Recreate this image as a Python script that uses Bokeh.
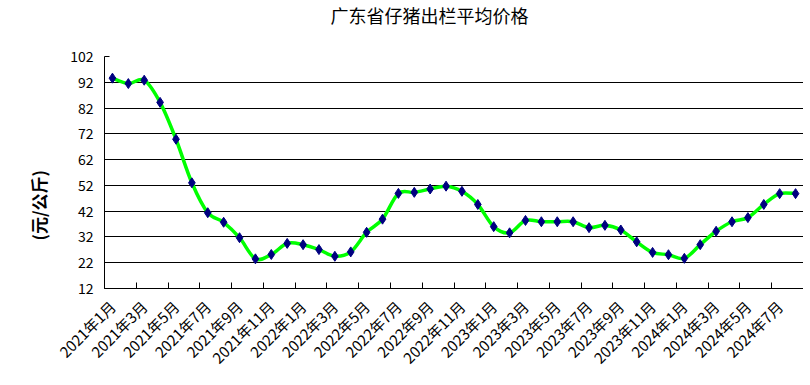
import math
from bokeh.plotting import figure
from bokeh.models import FixedTicker, Range1d, Title, ColumnDataSource
from bokeh.embed import file_html
from bokeh.resources import INLINE

title_text = "广东省仔猪出栏平均价格"
y_label = "(元/公斤)"

years = [2021, 2022, 2023, 2024]
months = []
for yr in years:
    for m in range(1, 13):
        months.append(f"{yr}年{m}月")
months = months[:44]

prices = [93.6, 91.5, 92.8, 84.2, 69.9, 53.0, 41.4, 37.7, 31.7, 23.5,
          25.2, 29.5, 29.0, 27.1, 24.5, 26.2, 33.8, 38.9, 48.9, 49.3,
          50.6, 51.7, 49.7, 44.6, 36.0, 33.6, 38.4, 37.9, 37.9, 37.9,
          35.6, 36.5, 34.7, 30.1, 26.0, 25.1, 23.7, 29.0, 34.2, 37.9,
          39.5, 44.6, 48.8, 48.8]

y_ticks = [12, 22, 32, 42, 52, 62, 72, 82, 92, 102]

FONT = "Noto Sans CJK SC"

n = len(prices)
xs = [i + 0.5 for i in range(n)]

p = figure(width=803, height=377, output_backend="svg", toolbar_location=None,
           x_range=Range1d(0, n), y_range=Range1d(12, 102),
           min_border_left=104, min_border_right=0, min_border_top=56, min_border_bottom=89)
p.outline_line_color = None
p.background_fill_color = "white"
p.border_fill_color = "white"

p.title.text = title_text + "\n"
p.title.align = "left"
p.title.offset = 226
p.title.vertical_align = "top"
p.title.standoff = 2
p.title.text_font = FONT
p.title.text_font_size = "18px"
p.title.text_font_style = "normal"
p.title.text_color = "black"

# grid
p.xgrid.visible = False
p.ygrid.ticker = FixedTicker(ticks=y_ticks[1:-1])
p.ygrid.grid_line_color = "black"
p.ygrid.grid_line_width = 1

# y axis
p.yaxis.ticker = FixedTicker(ticks=y_ticks)
p.yaxis.major_tick_in = 5
p.yaxis.major_tick_out = 0
p.yaxis.minor_tick_line_color = None
p.yaxis.axis_line_color = "black"
p.yaxis.major_label_text_font = FONT
p.yaxis.major_label_text_font_size = "14px"
p.yaxis.major_label_text_color = "black"
p.yaxis.major_label_standoff = 11

# x axis
label_pos = [i + 0.5 for i in range(0, n, 2)]
bounds = [float(i) for i in range(0, n + 1, 2)]
p.xaxis.ticker = FixedTicker(ticks=label_pos, minor_ticks=bounds)
p.xaxis.major_label_overrides = {x: months[int(x)] for x in label_pos}
p.xaxis.major_tick_in = 0
p.xaxis.major_tick_out = 0
p.xaxis.minor_tick_in = 6
p.xaxis.minor_tick_out = 0
p.xaxis.minor_tick_line_color = "black"
p.xaxis.axis_line_color = "black"
p.xaxis.major_label_orientation = math.pi / 4
p.xaxis.major_label_text_font = FONT
p.xaxis.major_label_text_font_size = "15px"
p.xaxis.major_label_text_color = "black"
p.xaxis.major_label_standoff = 15

# smooth line via bezier segments
x0, y0, x1, y1, cx0, cy0, cx1, cy1 = [], [], [], [], [], [], [], []
for i in range(n - 1):
    pm = (xs[max(i - 1, 0)], prices[max(i - 1, 0)])
    pa = (xs[i], prices[i])
    pb = (xs[i + 1], prices[i + 1])
    pn = (xs[min(i + 2, n - 1)], prices[min(i + 2, n - 1)])
    x0.append(pa[0]); y0.append(pa[1])
    x1.append(pb[0]); y1.append(pb[1])
    cx0.append(pa[0] + (pb[0] - pm[0]) / 6); cy0.append(pa[1] + (pb[1] - pm[1]) / 6)
    cx1.append(pb[0] - (pn[0] - pa[0]) / 6); cy1.append(pb[1] - (pn[1] - pa[1]) / 6)
p.bezier(x0=x0, y0=y0, x1=x1, y1=y1, cx0=cx0, cy0=cy0, cx1=cx1, cy1=cy1,
         line_color="#00FF00", line_width=3.5)

src = ColumnDataSource(dict(x=xs, y=prices))
p.scatter("x", "y", source=src, marker="diamond", size=10,
          fill_color="#000080", line_color="#000080")

ytitle = Title(text=y_label, align="left", offset=48, standoff=33,
               text_font=FONT, text_font_size="17px", text_font_style="bold",
               text_color="black")
p.add_layout(ytitle, "left")

open("out.html", "w").write(file_html(p, INLINE))
